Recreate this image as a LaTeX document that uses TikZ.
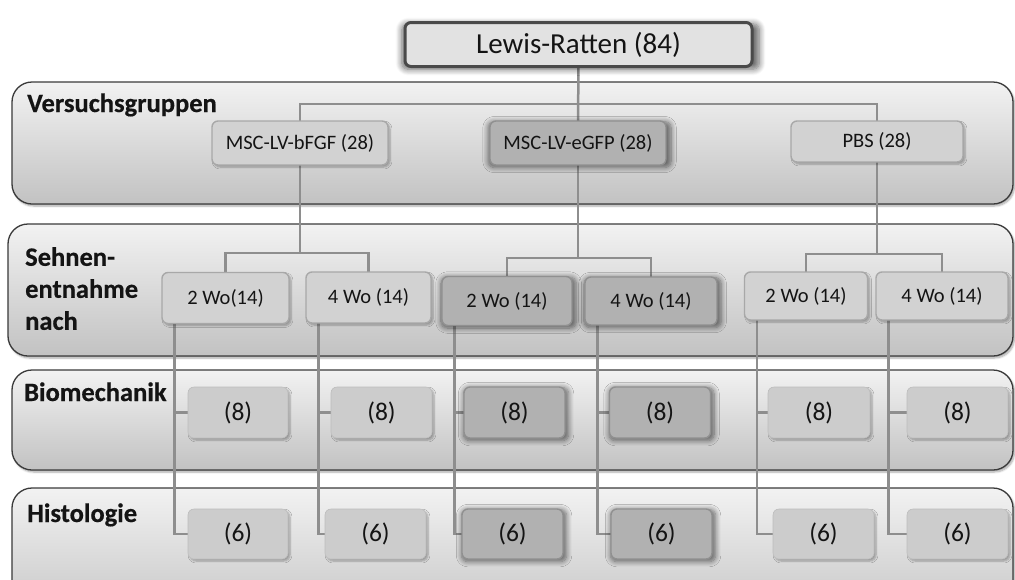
\documentclass[tikz,border=0pt]{standalone}
\usepackage{fontspec}
\setmainfont{Carlito}[BoldFeatures={FakeBold=0.5}]
\usetikzlibrary{shadows.blur}
\definecolor{bandtop}{HTML}{F2F2F2}
\definecolor{bandbot}{HTML}{C2C2C2}
\definecolor{bandline}{HTML}{3A3A3A}
\definecolor{conn}{HTML}{8E8E8E}
\definecolor{lightfill}{HTML}{D2D2D2}
\definecolor{lightline}{HTML}{A8A8A8}
\definecolor{darkfill}{HTML}{B1B1B1}
\definecolor{darkline}{HTML}{909090}
\definecolor{topfill}{HTML}{E2E2E2}
\definecolor{topline}{HTML}{4A4A4A}
\tikzset{
  band/.style={draw=bandline, line width=1.3pt, rounded corners=20pt,
    top color=bandtop, bottom color=bandbot,
    blur shadow={shadow xshift=1.5pt, shadow yshift=-2pt, shadow opacity=35, shadow blur steps=6}},
  bandlabel/.style={font=\fontsize{26.5}{32}\selectfont\bfseries, inner sep=0pt, text=black!92},
  boxbase/.style={rounded corners=6pt, inner sep=0pt, text=black!92},
  lightbox/.style={boxbase, draw=lightline, line width=1.4pt, fill=lightfill,
    blur shadow={shadow xshift=2pt, shadow yshift=-2pt, shadow opacity=30, shadow blur steps=6}},
  softbox/.style={boxbase, draw=lightfill!90!black, line width=0.6pt, fill=lightfill!97!black,
    blur shadow={shadow xshift=2pt, shadow yshift=-2pt, shadow opacity=30, shadow blur steps=6}},
  darkbox/.style={boxbase, draw=darkline, line width=1.4pt, fill=darkfill,
    blur shadow={shadow xshift=1.5pt, shadow yshift=-1.5pt, shadow scale=1.04, shadow opacity=55, shadow blur steps=8, shadow blur radius=5pt}},
  topbox/.style={boxbase, draw=topline, line width=3pt, fill=topfill,
    blur shadow={shadow xshift=2pt, shadow yshift=-2pt, shadow scale=1.03, shadow opacity=60, shadow blur steps=8, shadow blur radius=6pt}},
  grpfont/.style={font=\fontsize{20.5}{24}\selectfont},
  cntfont/.style={font=\fontsize{25.5}{30}\selectfont},
  link/.style={draw=conn, line width=2.5pt},
  anchorbox/.style={inner sep=0pt},
}
\begin{document}
\begin{tikzpicture}[x=1pt,y=-1pt]
\useasboundingbox (0,0) rectangle (1015,579);
\clip (0,0) rectangle (1015,579);
% bands
\path[band] (12,82) rectangle (1013,204);
\path[band] (8,224) rectangle (1013,356);
\path[band] (12,370) rectangle (1013,470);
\path[band] (12,488) rectangle (1013,630);
% band labels
\node[bandlabel, anchor=base west] (lv) at (27,112) {Versuchsgruppen};
\node[bandlabel, anchor=north west, align=left] (ls) at (25,247) {Sehnen-\\entnahme\\nach};
\node[bandlabel, anchor=base west] (lb) at (24,401) {Biomechanik};
\node[bandlabel, anchor=base west] (lh) at (27,522) {Histologie};
% junction coordinates
\coordinate (j0) at (578,104);
\coordinate (j1) at (300,253);
\coordinate (j2) at (578,258);
\coordinate (j3) at (877,254);
% box frames (for connector ends)
\path
 node[anchorbox, minimum width=347pt, minimum height=44pt] (Lewis) at (578.5,44.5) {}
 node[anchorbox, minimum width=176pt, minimum height=44pt] (bFGF) at (300,143) {}
 node[anchorbox, minimum width=176pt, minimum height=44pt] (eGFP) at (578,143) {}
 node[anchorbox, minimum width=172pt, minimum height=41pt] (PBS) at (877,141.5) {}
 node[anchorbox, minimum width=127pt, minimum height=51pt] (a1) at (225.5,298) {}
 node[anchorbox, minimum width=125pt, minimum height=51pt] (a2) at (368.5,297.5) {}
 node[anchorbox, minimum width=130pt, minimum height=49pt] (a3) at (507,301) {}
 node[anchorbox, minimum width=132pt, minimum height=48pt] (a4) at (651,301) {}
 node[anchorbox, minimum width=123pt, minimum height=48pt] (a5) at (806,296) {}
 node[anchorbox, minimum width=132pt, minimum height=48pt] (a6) at (942,296) {}
 node[anchorbox, minimum width=100pt, minimum height=51pt] (b1) at (238,412.5) {}
 node[anchorbox, minimum width=101pt, minimum height=51pt] (b2) at (381.5,412.5) {}
 node[anchorbox, minimum width=101pt, minimum height=51pt] (b3) at (514.5,412.5) {}
 node[anchorbox, minimum width=101pt, minimum height=51pt] (b4) at (660,412.5) {}
 node[anchorbox, minimum width=102pt, minimum height=51pt] (b5) at (819,412.5) {}
 node[anchorbox, minimum width=101pt, minimum height=51pt] (b6) at (957.5,412.5) {}
 node[anchorbox, minimum width=100pt, minimum height=50pt] (c1) at (238,534) {}
 node[anchorbox, minimum width=101pt, minimum height=50pt] (c2) at (375.5,534) {}
 node[anchorbox, minimum width=101pt, minimum height=50pt] (c3) at (512.5,534) {}
 node[anchorbox, minimum width=101pt, minimum height=50pt] (c4) at (661.5,534) {}
 node[anchorbox, minimum width=101pt, minimum height=50pt] (c5) at (823.5,534) {}
 node[anchorbox, minimum width=101pt, minimum height=50pt] (c6) at (957.5,534) {};
% connectors
\draw[link] (Lewis.south) -- (eGFP.north);
\draw[link] (bFGF.north) |- (j0) -| (PBS.north);
\draw[link] (bFGF.south) -- (j1);
\draw[link] (a1.north) |- (j1) -| (a2.north);
\draw[link] (eGFP.south) -- (j2);
\draw[link] (a3.north) |- (j2) -| (a4.north);
\draw[link] (PBS.south) -- (j3);
\draw[link] (a5.north) |- (j3) -| (a6.north);
\foreach \i in {1,...,6}{
  \draw[link] ([xshift=12.5pt]a\i.south west) |- (c\i.west);
  \draw[link] ([xshift=12.5pt]a\i.south west |- b\i.west) -- (b\i.west);
}
% visible boxes
\node[topbox, minimum width=347pt, minimum height=44pt, font=\fontsize{29}{34}\selectfont] (tLewis) at (Lewis) {Lewis-Ratten (84)};
\node[lightbox, grpfont, minimum width=176pt, minimum height=44pt] (tB) at (bFGF) {MSC-LV-bFGF (28)};
\node[darkbox, grpfont, minimum width=176pt, minimum height=44pt] (tE) at (eGFP) {MSC-LV-eGFP (28)};
\node[lightbox, grpfont, minimum width=172pt, minimum height=41pt] (tP) at (PBS) {PBS (28)};
\node[lightbox, grpfont, minimum width=127pt, minimum height=51pt] (ta1) at (a1) {2 Wo(14)};
\node[lightbox, grpfont, minimum width=125pt, minimum height=51pt] (ta2) at (a2) {4 Wo (14)};
\node[darkbox, grpfont, minimum width=130pt, minimum height=49pt] (ta3) at (a3) {2 Wo (14)};
\node[darkbox, grpfont, minimum width=132pt, minimum height=48pt] (ta4) at (a4) {4 Wo (14)};
\node[lightbox, grpfont, minimum width=123pt, minimum height=48pt] (ta5) at (a5) {2 Wo (14)};
\node[lightbox, grpfont, minimum width=132pt, minimum height=48pt] (ta6) at (a6) {4 Wo (14)};
\foreach \n/\w/\s in {b1/100/softbox, b2/101/softbox, b3/101/darkbox, b4/101/darkbox, b5/102/softbox, b6/101/softbox}{
  \node[\s, cntfont, minimum width=\w pt, minimum height=51pt] (t\n) at (\n) {(8)};
}
\foreach \n/\w/\s in {c1/100/softbox, c2/101/softbox, c3/101/darkbox, c4/101/darkbox, c5/101/softbox, c6/101/softbox}{
  \node[\s, cntfont, minimum width=\w pt, minimum height=50pt] (t\n) at (\n) {(6)};
}
\end{tikzpicture}
\end{document}
